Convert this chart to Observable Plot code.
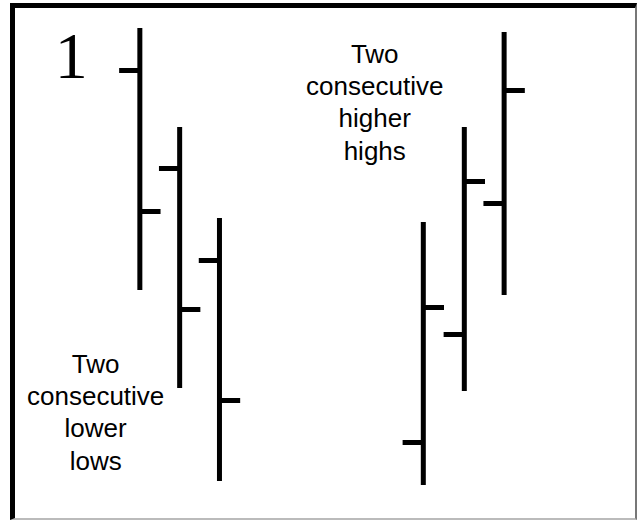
<!DOCTYPE html>
<html>
<head>
<meta charset="utf-8">
<script src="https://cdn.jsdelivr.net/npm/d3@7"></script>
<script src="https://cdn.jsdelivr.net/npm/@observablehq/plot@0.6"></script>
<style>
  html, body { margin: 0; padding: 0; background: #fff; }
  #wrap { position: relative; width: 637px; height: 520px; overflow: hidden; }
  #chart svg { display: block; }
  #border {
    position: absolute; left: 10px; top: 3px; width: 627px; height: 517px;
    box-sizing: border-box;
    border-left: 5px solid #000; border-top: 5px solid #000;
    border-right: 2px solid #777; border-bottom: 2px solid #bbb;
    pointer-events: none;
  }
</style>
</head>
<body>
<div id="wrap">
  <div id="chart"></div>
  <div id="border"></div>
</div>
<script>
// Bar data (day index and prices)
const days   = [1, 2, 3, 8.12, 9.15, 10.15];
const highs  = [49.2, 39.3, 30.2, 29.8, 39.3, 48.8];
const lows   = [23.0, 13.2, 3.9, 3.5, 12.9, 22.5];
const opens  = [45.0, 35.2, 26.0, 7.8, 18.6, 31.7];
const closes = [30.9, 21.1, 12.0, 21.3, 33.9, 43.0];

// Annotations
const labelTexts = ["Two\nconsecutive\nlower\nlows", "Two\nconsecutive\nhigher\nhighs"];
const labelDays  = [-0.11, 6.9];
const labelPrices = [10.95, 41.95];
const numberText = ["1"];
const numberDay = [-0.72];
const numberPrice = [46.4];

const bars = days.map((d, i) => ({day: d, high: highs[i], low: lows[i], open: opens[i], close: closes[i]}));
const labels = labelTexts.map((t, i) => ({text: t, day: labelDays[i], price: labelPrices[i]}));
const numbers = numberText.map((t, i) => ({text: t, day: numberDay[i], price: numberPrice[i]}));

const tickLen = 0.52;

const chart = Plot.plot({
  width: 637,
  height: 520,
  margin: 0,
  x: {domain: [-2.5, 13.5], axis: null},
  y: {domain: [0, 52], axis: null},
  style: {background: "white"},
  marks: [
    Plot.ruleX(bars, {x: "day", y1: "low", y2: "high", stroke: "black", strokeWidth: 5}),
    Plot.link(bars, {x1: d => d.day - tickLen, x2: "day", y1: "open", y2: "open", stroke: "black", strokeWidth: 5}),
    Plot.link(bars, {x1: "day", x2: d => d.day + tickLen, y1: "close", y2: "close", stroke: "black", strokeWidth: 5}),
    Plot.text(labels, {x: "day", y: "price", text: "text", fontSize: 26, lineHeight: 1.24,
      fontFamily: "Liberation Sans, Arial, sans-serif", fill: "black", textAnchor: "middle"}),
    Plot.text(numbers, {x: "day", y: "price", text: "text", fontSize: 66,
      fontFamily: "Liberation Serif, Times New Roman, serif", fill: "black", textAnchor: "middle"})
  ]
});
document.getElementById("chart").appendChild(chart);
</script>
</body>
</html>
